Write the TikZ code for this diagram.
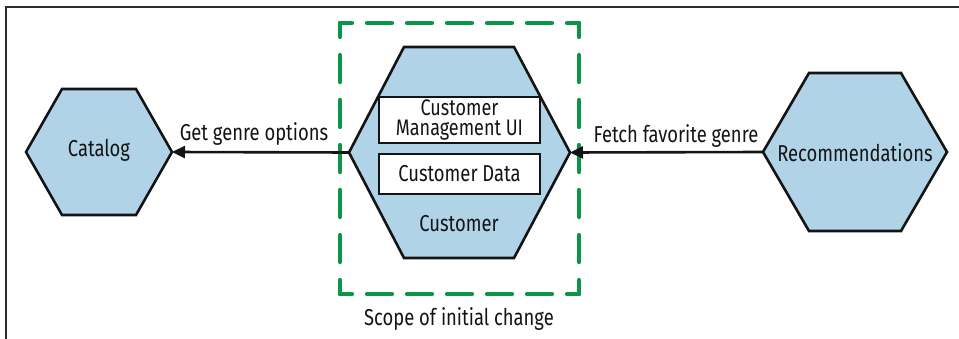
\documentclass[tikz,border=0pt]{standalone}
\usepackage{fontspec}
\setmainfont{Fira Sans}[FakeStretch=0.80]
\usetikzlibrary{arrows.meta}
\definecolor{hexblue}{RGB}{176,211,232}
\definecolor{scopegreen}{RGB}{10,150,70}
\definecolor{inkc}{RGB}{20,20,20}
\begin{document}
\begin{tikzpicture}[x=1pt,y=-1pt,
  hexshape/.style={draw=inkc,fill=hexblue,line width=2.6pt,line join=miter},
  innerbox/.style={draw=inkc,fill=white,line width=2.6pt,inner sep=0pt,text=inkc,align=center,minimum width=161pt},
  lbl/.style={inner sep=0pt,anchor=base,text=inkc,font=\fontsize{23}{20}\selectfont},
  flow/.style={draw=inkc,line width=2.6pt,-{Triangle[length=13pt,width=12pt]}},
  scopeline/.style={draw=scopegreen,line width=4.2pt,line cap=round}]
\useasboundingbox (0,0) rectangle (959,339);
% frame
\draw[line width=1.6pt,draw=inkc!90] (6,339) -- (6,7) -- (959,7);
% scope of initial change (dashed box)
\coordinate (sTL) at (340,23);
\coordinate (sTR) at (579,23);
\coordinate (sBL) at (340,294);
\coordinate (sBR) at (579,294);
\draw[scopeline,dash pattern=on 25pt off 15pt,dash phase=13pt] (sTL) -- (sTR);
\draw[scopeline,dash pattern=on 25pt off 15pt,dash phase=13pt] (sBL) -- (sBR);
\draw[scopeline,dash pattern=on 27pt off 18pt,dash phase=13pt] (sTL) -- (sBL);
\draw[scopeline,dash pattern=on 27pt off 18pt,dash phase=13pt] (sTR) -- (sBR);
% hexagon vertices
\coordinate (catL) at (26,152);
\coordinate (catR) at (172,152);
\coordinate (cusL) at (349,152.5);
\coordinate (cusR) at (570,152.5);
\coordinate (recL) at (763,152);
\coordinate (recR) at (947,152);
% Catalog
\path[hexshape] (catL) -- (62,89) -- (136,89) -- (catR) -- (136,215) -- (62,215) -- cycle;
\node[lbl] (catalog) at (99,157) {Catalog};
% Customer
\path[hexshape] (cusL) -- (404,47) -- (514,47) -- (cusR) -- (514,258) -- (404,258) -- cycle;
\node[innerbox,minimum height=46pt,font=\fontsize{22.5}{20.5}\selectfont] (mgmtbox) at (459.5,120) {Customer\\Management UI};
\node[innerbox,minimum height=40pt,font=\fontsize{23}{20}\selectfont] (databox) at (459.5,174) {Customer Data};
\node[lbl] (customer) at (459,232) {Customer};
% Recommendations
\path[hexshape] (recL) -- (809,73) -- (901,73) -- (recR) -- (901,231) -- (809,231) -- cycle;
\node[lbl] (recs) at (855,162) {Recommendations};
% connectors
\draw[flow] (cusL) -- (catR);
\draw[flow] (recL) -- (cusR);
\node[lbl] (getgenre) at (254,141) {Get genre options};
\node[lbl] (fetchfav) at (676,143) {Fetch favorite genre};
\node[lbl] (scopelbl) at (459,325) {Scope of initial change};
\end{tikzpicture}
\end{document}
